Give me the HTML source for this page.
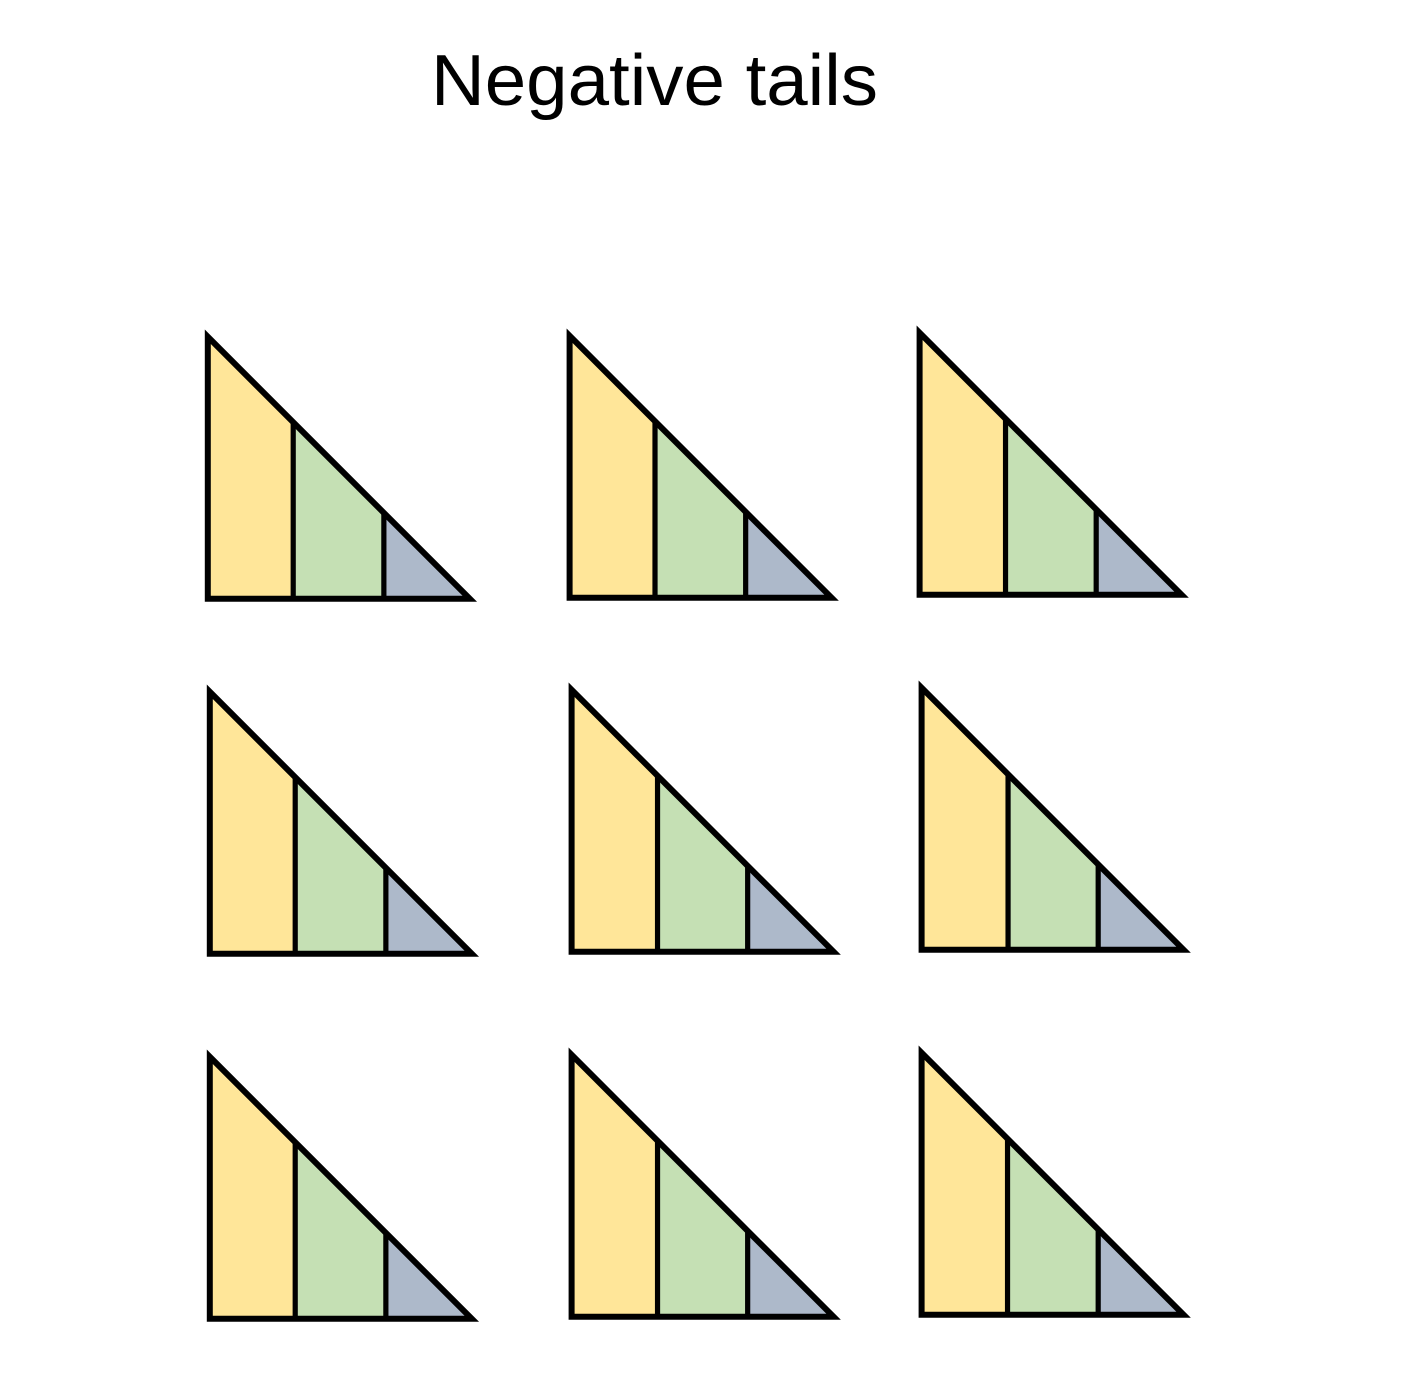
<!DOCTYPE html>
<html lang="en">
<head>
<meta charset="utf-8">
<title>Negative tails</title>
<style>
html,body{margin:0;padding:0;background:#fff;}
#chart{display:block;width:1404px;height:1373px;}
</style>
</head>
<body>
<svg id="chart" xmlns="http://www.w3.org/2000/svg" width="1404" height="1373" viewBox="0 0 1404 1373">
  <text x="431" y="105" font-family="'Liberation Sans', sans-serif" font-size="72" fill="#000" textLength="447" lengthAdjust="spacingAndGlyphs">Negative tails</text>
  <g class="panel" transform="translate(207.8,598.8)"></g>
  <g class="panel" transform="translate(569.6,597.8)"></g>
  <g class="panel" transform="translate(919.6,594.8)"></g>
  <g class="panel" transform="translate(209.8,953.8)"></g>
  <g class="panel" transform="translate(571.6,951.8)"></g>
  <g class="panel" transform="translate(921.6,949.8)"></g>
  <g class="panel" transform="translate(209.8,1318.8)"></g>
  <g class="panel" transform="translate(571.6,1316.8)"></g>
  <g class="panel" transform="translate(921.6,1314.8)"></g>
</svg>
<script>
const yellowShares = [0.326, 0.326, 0.328, 0.326, 0.328, 0.330, 0.326, 0.328, 0.328];
const greenShares  = [0.346, 0.346, 0.346, 0.346, 0.344, 0.344, 0.346, 0.344, 0.346];
const blueShares   = [0.328, 0.328, 0.326, 0.328, 0.328, 0.326, 0.328, 0.328, 0.326];

const SIZE = 262;
const STROKE = 6;
const NS = 'http://www.w3.org/2000/svg';

function xScale(share) { return share * SIZE; }
function yScale(share) { return -(1 - share) * SIZE; }

function makeEl(tag, attrs) {
  const el = document.createElementNS(NS, tag);
  Object.keys(attrs).forEach(function (k) { el.setAttribute(k, attrs[k]); });
  return el;
}

function band(from, to, color) {
  const pts = [
    [xScale(from), 0],
    [xScale(from), yScale(from)],
    [xScale(to), yScale(to)],
    [xScale(to), 0]
  ];
  return makeEl('polygon', { points: pts.map(function (p) { return p.join(','); }).join(' '), fill: color });
}

function divider(at) {
  return makeEl('line', {
    x1: xScale(at), y1: 0, x2: xScale(at), y2: yScale(at),
    stroke: '#000', 'stroke-width': STROKE - 0.8
  });
}

const panels = document.querySelectorAll('.panel');
panels.forEach(function (g, i) {
  const a = yellowShares[i];
  const b = a + greenShares[i];
  const c = b + blueShares[i];

  const yellow = band(0, a, '#FFE699');
  
  
  g.appendChild(yellow);

  const green = band(a, b, '#C5E0B4');
  
  
  g.appendChild(green);

  const blue = band(b, c, '#ADB9CA');
  
  
  g.appendChild(blue);

  const d1 = divider(a);
  
  
  g.appendChild(d1);

  const d2 = divider(b);
  
  
  g.appendChild(d2);

  const outline = makeEl('polygon', {
    points: '0,0 0,' + yScale(0) + ' ' + xScale(c) + ',' + yScale(c),
    fill: 'none',
    stroke: '#000',
    'stroke-width': STROKE,
    'stroke-linejoin': 'miter',
    'stroke-miterlimit': 10
  });
  
  
  g.appendChild(outline);
});
</script>
</body>
</html>
